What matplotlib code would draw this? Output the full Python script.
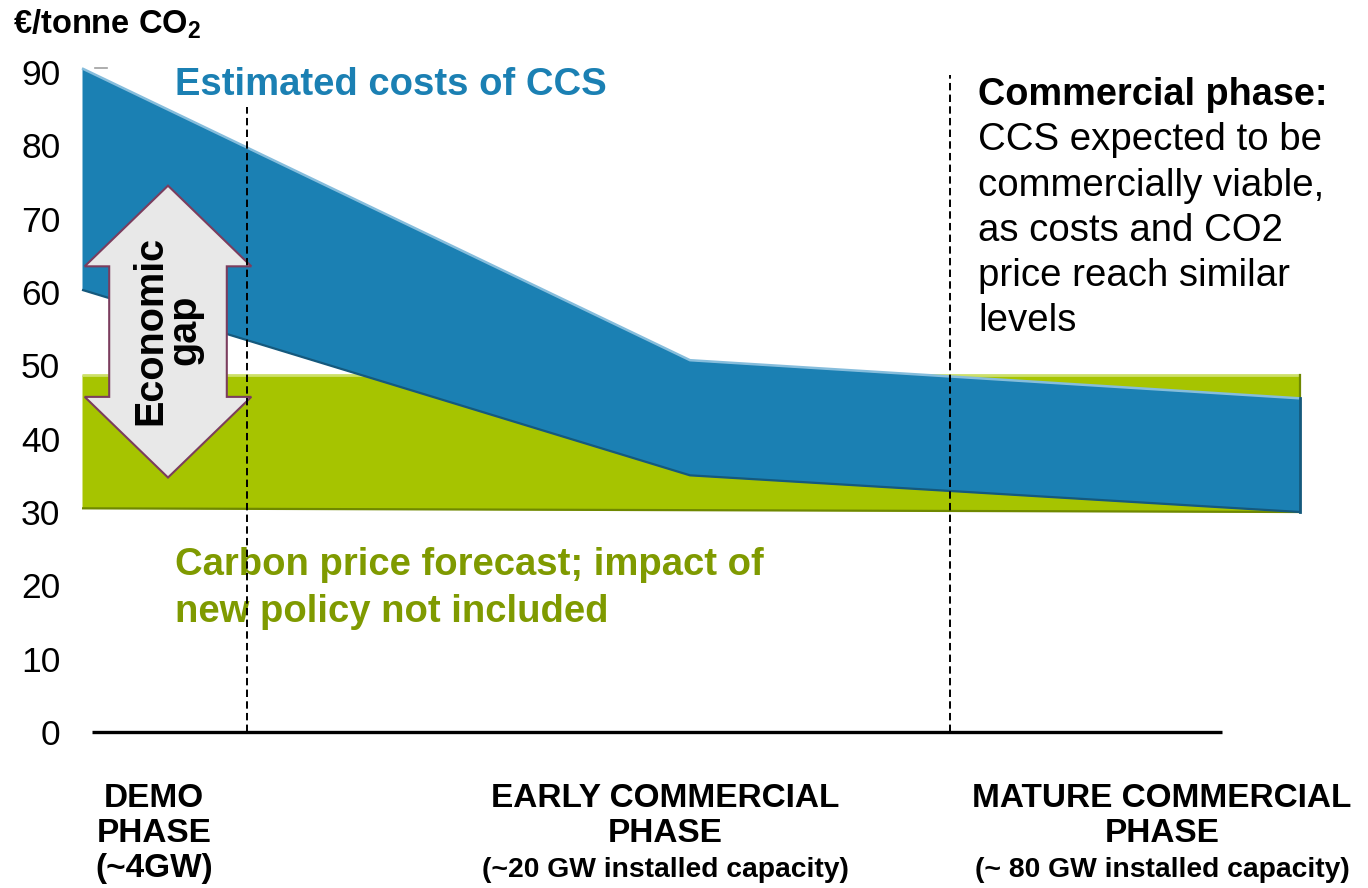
import matplotlib
matplotlib.use("Agg")
import matplotlib.pyplot as plt
from matplotlib.patches import Polygon

plt.rcParams['font.family'] = ['Liberation Sans', 'DejaVu Sans']
plt.rcParams['mathtext.fontset'] = 'custom'
plt.rcParams['mathtext.bf'] = 'Liberation Sans:bold'
plt.rcParams['mathtext.rm'] = 'Liberation Sans'

# ---- data ----
stage_x = [0.0, 6.08, 12.18]            # position along the deployment path
ccs_cost_high = [90.5, 50.7, 45.5]      # EUR / t CO2, upper estimate
ccs_cost_low = [60.3, 35.0, 30.0]       # EUR / t CO2, lower estimate
carbon_x = [0.0, 12.18]
carbon_price_high = [48.7, 48.7]
carbon_price_low = [30.5, 30.0]
phase_bounds = [1.65, 8.68]             # dashed phase separators
phase_bound_tops = [85.2, 89.6]
y_ticks = [0, 10, 20, 30, 40, 50, 60, 70, 80, 90]
phase_centers = [0.72, 5.83, 10.80]
phase_titles = [["DEMO", "PHASE"], ["EARLY COMMERCIAL", "PHASE"], ["MATURE COMMERCIAL", "PHASE"]]
phase_caps = ["(~4GW)", "(~20 GW installed capacity)", "(~ 80 GW installed capacity)"]
gap_span = [34.7, 74.5]                 # economic gap arrow (low tip, high tip)

BLUE = "#1b80b3"
BLUE_LIGHT = "#86bddc"
BLUE_DARK = "#15597d"
GREEN = "#a6c400"
GREEN_LIGHT = "#cde06a"
GREEN_DARK = "#6f8800"
GREEN_TEXT = "#7f9a00"

W, H = 1368, 888
fig = plt.figure(figsize=(W / 100, H / 100), dpi=100)
ax = fig.add_axes([70 / W, (H - 732) / H, (W - 70) / W, 732 / H])
ax.set_xlim(-0.12, 12.86)
ax.set_ylim(0, 732 / 7.3333)
for s in ax.spines.values():
    s.set_visible(False)
ax.set_xticks([])
ax.set_yticks(y_ticks)
ax.set_yticklabels([str(v) for v in y_ticks], fontsize=25.5)
ax.tick_params(axis='y', length=0, pad=7)

# carbon price band
ax.fill_between(carbon_x, carbon_price_low, carbon_price_high, color=GREEN, lw=0, zorder=2)
ax.plot(carbon_x, carbon_price_high, color=GREEN_LIGHT, lw=2, zorder=2.1, solid_capstyle='butt')
ax.plot(carbon_x, carbon_price_low, color=GREEN_DARK, lw=1.6, zorder=2.1, solid_capstyle='butt')
ax.plot([carbon_x[-1]] * 2, [carbon_price_low[-1], carbon_price_high[-1]], color=GREEN_DARK, lw=1.6, zorder=2.1)

# CCS cost band
ax.fill_between(stage_x, ccs_cost_low, ccs_cost_high, color=BLUE, lw=0, zorder=3)
ax.plot(stage_x, ccs_cost_high, color=BLUE_LIGHT, lw=1.8, zorder=3.1, solid_capstyle='butt')
ax.plot(stage_x, ccs_cost_low, color=BLUE_DARK, lw=1.6, zorder=3.1, solid_capstyle='butt')
ax.plot([stage_x[-1]] * 2, [ccs_cost_low[-1], ccs_cost_high[-1]], color=BLUE_DARK, lw=2, zorder=3.1)
ax.plot([0.13, 0.25], [ccs_cost_high[0], ccs_cost_high[0]], color="#a0a0a0", lw=1.2, zorder=3)

# economic gap arrow
cx, hw, sw, hl = 0.86, 0.833, 0.588, 11.0
lo, hi = gap_span
verts = [(cx, hi), (cx + hw, hi - hl), (cx + sw, hi - hl), (cx + sw, lo + hl),
         (cx + hw, lo + hl), (cx, lo), (cx - hw, lo + hl), (cx - sw, lo + hl),
         (cx - sw, hi - hl), (cx - hw, hi - hl)]
ax.add_patch(Polygon(verts, closed=True, facecolor="#e8e8e8", edgecolor="#7b3d5e", lw=1.5, zorder=4))
ax.text(cx - 0.01, 54.8, "Economic\ngap", rotation=90, ha='center', va='center', multialignment='center',
        fontsize=28.5, fontweight='bold', linespacing=0.86, zorder=6)

# phase separators and baseline
for xb, top in zip(phase_bounds, phase_bound_tops):
    ax.plot([xb, xb], [0, top], color='black', lw=1.4, ls=(0, (3.8, 2.2)), zorder=5)
ax.plot([0.10, 11.40], [0, 0], color='black', lw=2.4, zorder=5, clip_on=False, solid_capstyle='butt')

# band labels
ax.text(0.93, 86.9, "Estimated costs of CCS", color=BLUE, fontsize=27.5, fontweight='bold', va='baseline')
ax.text(0.93, (732 - 575) / 7.3333, "Carbon price forecast; impact of", color=GREEN_TEXT,
        fontsize=27.5, fontweight='bold', va='baseline')
ax.text(0.93, (732 - 621.5) / 7.3333, "new policy not included", color=GREEN_TEXT,
        fontsize=27.5, fontweight='bold', va='baseline')

# commercial phase note
note = ["CCS expected to be", "commercially viable,", "as costs and CO2", "price reach similar", "levels"]
ax.text(8.96, (732 - 105) / 7.3333, "Commercial phase:", fontsize=27.3, fontweight='bold', va='baseline')
for i, line in enumerate(note):
    ax.text(8.96, (732 - 150.3 - 45.3 * i) / 7.3333, line, fontsize=27.6, va='baseline')

# y-axis unit title
fig.text(13 / W, 1 - 33.5 / H, r"€/tonne CO$_{\mathbf{2}}$", fontsize=23.5, fontweight='bold', va='baseline')

# phase labels under the axis
for xc, title, cap in zip(phase_centers, phase_titles, phase_caps):
    for j, line in enumerate(title):
        ax.text(xc, -(807 + 35 * j - 732) / 7.3333, line, ha='center', va='baseline',
                fontsize=24, fontweight='bold', clip_on=False)
    cap_fs = 24 if cap == "(~4GW)" else 20.3
    ax.text(xc, -(877 - 732) / 7.3333, cap, ha='center', va='baseline',
            fontsize=cap_fs, fontweight='bold', clip_on=False)

fig.savefig("out.png", dpi=100)
